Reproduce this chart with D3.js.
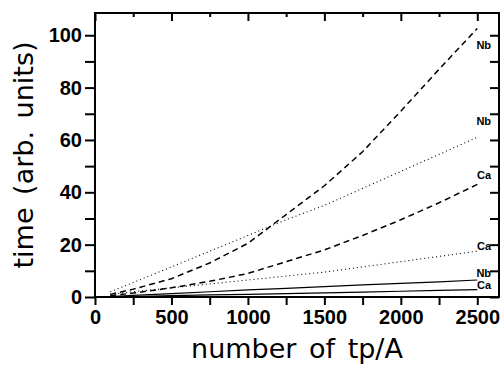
<!DOCTYPE html>
<html>
<head>
<meta charset="utf-8">
<script src="https://cdn.jsdelivr.net/npm/d3@7"></script>
<style>
  html, body { margin: 0; padding: 0; background: #fff; }
  svg { display: block; }
  .tick text { font-family: "Liberation Sans", Arial, sans-serif; font-weight: bold; font-size: 20px; }
  .title { font-family: "DejaVu Sans", sans-serif; font-size: 27px; word-spacing: 4px; }
  .lbl { font-family: "Liberation Sans", Arial, sans-serif; font-weight: bold; font-size: 11px; }
</style>
</head>
<body>
<svg id="chart"></svg>
<script>
/* CONSTANTS AND GLOBALS */
const width = 501,
  height = 365,
  margin = { top: 13, right: 2, bottom: 68, left: 95 };

// number of tp per nucleon (x values, shared by every curve)
const tp = [100, 250, 500, 750, 1000, 1250, 1500, 1750, 2000, 2250, 2500];

// times, one array per curve
const nbDashed = [1.0, 3.0, 7.0, 13.0, 20.5, 31.5, 42.5, 55.5, 71.0, 87.0, 102.6];
const nbDotted = [2.0, 5.5, 11.5, 17.5, 23.5, 29.5, 35.0, 41.5, 48.0, 54.5, 61.0];
const caDashed = [0.5, 1.5, 3.5, 6.0, 9.0, 13.5, 18.0, 23.5, 29.5, 36.0, 43.0];
const caDotted = [1.0, 2.0, 3.5, 5.0, 6.5, 8.0, 9.5, 11.5, 13.5, 15.5, 17.5];
const nbSolid  = [0.2, 0.6, 1.3, 2.0, 2.7, 3.3, 4.0, 4.6, 5.2, 5.8, 6.5];
const caSolid  = [0.1, 0.2, 0.5, 0.8, 1.0, 1.3, 1.6, 1.9, 2.2, 2.5, 2.8];

// curve names and where their names sit (in time units, at the right edge)
const names = ["Nb", "Nb", "Ca", "Ca", "Nb", "Ca"];
const nameAt = [96.2, 67.2, 46.6, 19.3, 9.0, 4.4];

// axis ticks
const xTickLabels = [0, 500, 1000, 1500, 2000, 2500];
const xTicksAll = d3.range(0, 2501, 250);
const yTickLabels = [0, 20, 40, 60, 80, 100];
const yTicksAll = d3.range(0, 101, 10);

const series = [
  { values: nbDashed, style: "dash" },
  { values: nbDotted, style: "dot" },
  { values: caDashed, style: "dash" },
  { values: caDotted, style: "dot" },
  { values: nbSolid,  style: "solid" },
  { values: caSolid,  style: "solid" },
];

const svg = d3.select("#chart")
  .attr("width", width)
  .attr("height", height);

const x = d3.scaleLinear()
  .domain([0, 2642])
  .range([margin.left, width - margin.right]);

const y = d3.scaleLinear()
  .domain([0, 108.5])
  .range([height - margin.bottom, margin.top]);

/////////////
/// AXES ///
////////////

// bottom: ticks every 250 pointing out, labels every 500
svg.append("g")
  .attr("transform", `translate(0,${y(0)})`)
  .call(d3.axisBottom(x).tickValues(xTicksAll).tickSizeInner(8).tickSizeOuter(0).tickPadding(5)
    .tickFormat(d => xTickLabels.includes(d) ? d : ""));

// top: ticks pointing in, longer on the labelled ones
const xTop = svg.append("g")
  .attr("transform", `translate(0,${y.range()[1]})`)
  .call(d3.axisTop(x).tickValues(xTicksAll).tickSizeOuter(0).tickFormat(""));
xTop.selectAll(".tick line").attr("y2", d => d % 500 === 0 ? 8 : 4);

// left: ticks every 10 pointing out, labels every 20
svg.append("g")
  .attr("transform", `translate(${x(0)},0)`)
  .call(d3.axisLeft(y).tickValues(yTicksAll).tickSizeInner(10).tickSizeOuter(0).tickPadding(3)
    .tickFormat(d => yTickLabels.includes(d) ? d : ""));

// right: ticks pointing in
const yRight = svg.append("g")
  .attr("transform", `translate(${x.range()[1]},0)`)
  .call(d3.axisRight(y).tickValues(yTicksAll).tickSizeOuter(0).tickFormat(""));
yRight.selectAll(".tick line").attr("x2", -9);

svg.selectAll(".domain").remove();
svg.selectAll(".tick line").attr("stroke", "#000").attr("stroke-width", 2);
svg.selectAll(".tick text").attr("fill", "#000");

// frame
svg.append("rect")
  .attr("x", x.range()[0])
  .attr("y", y.range()[1])
  .attr("width", x.range()[1] - x.range()[0])
  .attr("height", y.range()[0] - y.range()[1])
  .attr("fill", "none")
  .attr("stroke", "#000")
  .attr("stroke-width", 2);

/////////////
/// LINES ///
/////////////

const line = d3.line()
  .x((d, i) => x(tp[i]))
  .y(d => y(d));

const dash = { dash: "6,4", dot: "1,3", solid: null };
const widthOf = { dash: 1.5, dot: 1.1, solid: 1.2 };

svg.append("g")
  .selectAll("path")
  .data(series)
  .join("path")
    .attr("d", d => line(d.values))
    .attr("fill", "none")
    .attr("stroke", "#000")
    .attr("stroke-width", d => widthOf[d.style])
    .attr("stroke-dasharray", d => dash[d.style]);

// curve names near the right edge
svg.append("g")
  .selectAll("text")
  .data(names)
  .join("text")
    .attr("class", "lbl")
    .attr("x", x(2590))
    .attr("y", (d, i) => y(nameAt[i]))
    .attr("dy", "0.35em")
    .attr("text-anchor", "end")
    .text(d => d);

// axis titles
svg.append("text")
  .attr("class", "title")
  .attr("x", (x.range()[0] + x.range()[1]) / 2)
  .attr("y", 358)
  .attr("text-anchor", "middle")
  .text("number of tp/A");

svg.append("text")
  .attr("class", "title")
  .attr("transform", `translate(33,${(y.range()[0] + y.range()[1]) / 2}) rotate(-90)`)
  .attr("text-anchor", "middle")
  .text("time (arb. units)");
</script>
</body>
</html>
